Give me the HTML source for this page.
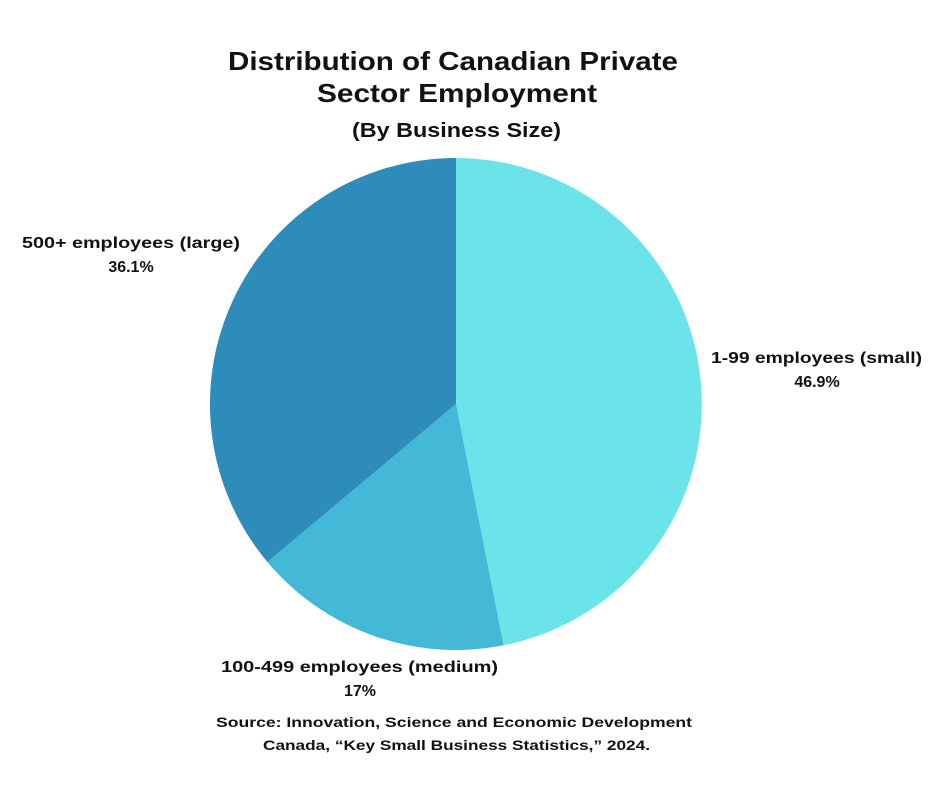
<!DOCTYPE html>
<html><head><style>
body{margin:0;background:#fff;}
svg text{font-family:"Liberation Sans",sans-serif;font-weight:bold;fill:#111;}
</style></head><body>
<svg width="940" height="788" viewBox="0 0 940 788">
<rect width="940" height="788" fill="#fff"/>
<text x="228" y="70" font-size="26" textLength="450" lengthAdjust="spacingAndGlyphs">Distribution of Canadian Private</text>
<text x="317" y="102" font-size="26" textLength="280" lengthAdjust="spacingAndGlyphs">Sector Employment</text>
<text x="352" y="137" font-size="20" textLength="209" lengthAdjust="spacingAndGlyphs">(By Business Size)</text>
<path d="M456,404 L456,158 A246,246 0 0 1 503.6,645.3 Z" fill="#6ae4e8"/>
<path d="M456,404 L503.6,645.3 A246,246 0 0 1 267.4,562 Z" fill="#43b8d7"/>
<path d="M456,404 L267.4,562 A246,246 0 0 1 456,158 Z" fill="#2e8cba"/>
<text x="22" y="248" font-size="16" textLength="218" lengthAdjust="spacingAndGlyphs">500+ employees (large)</text>
<text x="131" y="272" text-anchor="middle" font-size="16">36.1%</text>
<text x="711" y="363" font-size="16" textLength="211" lengthAdjust="spacingAndGlyphs">1-99 employees (small)</text>
<text x="817" y="387" text-anchor="middle" font-size="16">46.9%</text>
<text x="221" y="672" font-size="16" textLength="277" lengthAdjust="spacingAndGlyphs">100-499 employees (medium)</text>
<text x="360" y="696" text-anchor="middle" font-size="16">17%</text>
<text x="216" y="727" font-size="14" textLength="476" lengthAdjust="spacingAndGlyphs">Source: Innovation, Science and Economic Development</text>
<text x="263" y="750" font-size="14" textLength="387" lengthAdjust="spacingAndGlyphs">Canada, “Key Small Business Statistics,” 2024.</text>
</svg>
</body></html>
